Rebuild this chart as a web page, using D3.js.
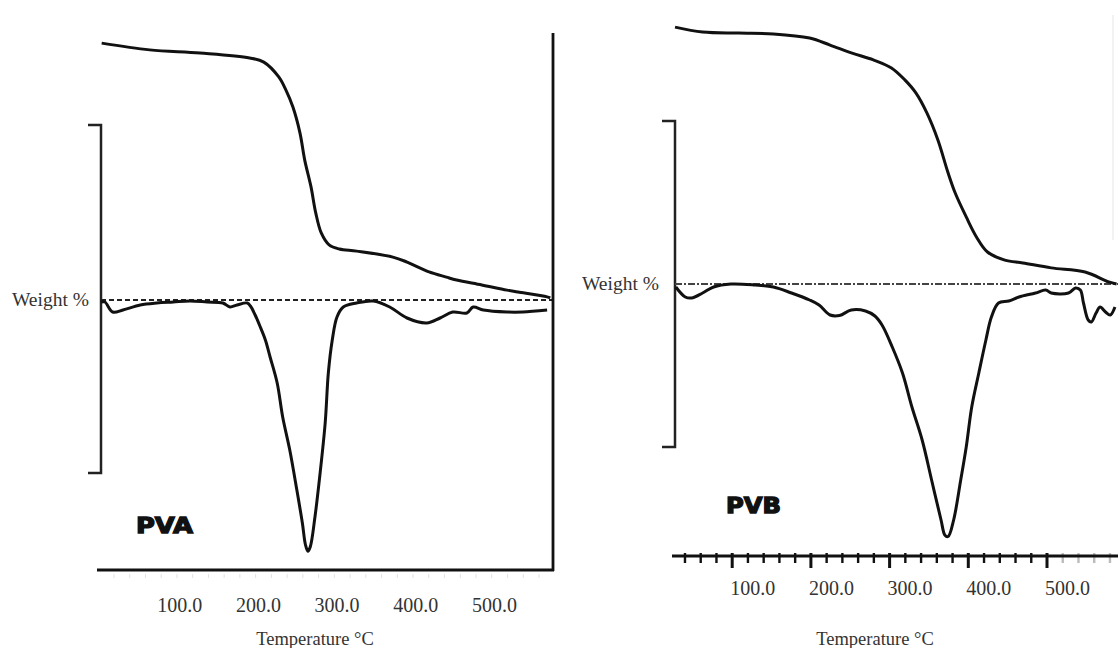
<!DOCTYPE html>
<html>
<head>
<meta charset="utf-8">
<script src="https://cdn.jsdelivr.net/npm/d3@7"></script>
<style>
  body { margin: 0; background: #fff; }
  svg { display: block; }
</style>
</head>
<body>
<div id="chart"></div>
<script>
// values (temperature in degC, weight %, DTG in arbitrary units)
var tickLabels = [100, 200, 300, 400, 500];

var pvaTgTemp   = [25, 86, 150, 213, 231, 250, 259, 268, 277, 283, 291, 297, 304, 314, 327, 349, 395, 413, 441, 463, 476, 508, 540, 554, 591, 595];
var pvaTgWeight = [98.8, 96.2, 95.0, 93.1, 91.5, 85.8, 80.8, 74.2, 64.2, 53.8, 43.5, 33.5, 25.8, 21.2, 19.6, 18.8, 16.5, 14.6, 10.8, 8.8, 7.7, 5.8, 3.8, 3.1, 1.2, 0.8];

var pvaDtgTemp = [24, 29, 39, 52, 74, 95, 116, 137, 159, 179, 188, 197, 210, 214, 220, 226, 233, 239, 248, 255, 264, 273, 280, 284, 287, 290, 296, 302, 309, 313, 318, 324, 332, 349, 370, 391, 413, 438, 455, 471, 489, 497, 510, 540, 560, 591];
var pvaDtgRate = [-0.8, -0.8, -4.8, -4.0, -2.0, -1.2, -0.8, -0.4, -0.8, -1.2, -2.8, -2.0, -1.2, -2.4, -6.0, -10.4, -16, -22.8, -33.2, -46.8, -60, -76, -89.2, -98, -100.5, -98.8, -86.8, -70.8, -49.2, -29.2, -16, -6.8, -2.8, -1.2, -0.4, -2.8, -7.2, -9.2, -7.2, -4.8, -5.2, -2.8, -4.0, -4.8, -4.8, -4.0];

var pvbTgTemp   = [28, 63, 109, 153, 199, 225, 253, 280, 303, 320, 334, 348, 362, 375, 384, 398, 411, 425, 447, 470, 506, 549, 579, 589];
var pvbTgWeight = [98.8, 96.9, 96.5, 96.2, 94.6, 91.9, 88.8, 86.2, 83.1, 78.5, 73.5, 65.8, 55.4, 42.7, 35.0, 25.8, 18.1, 12.3, 9.2, 8.1, 6.2, 4.6, 0.8, 0];

var pvbDtgTemp = [29, 41, 49, 63, 77, 99, 130, 153, 176, 199, 211, 225, 237, 252, 270, 282, 291, 304, 317, 329, 342, 354, 366, 371, 375, 382, 391, 398, 405, 414, 423, 430, 439, 452, 465, 486, 499, 506, 528, 537, 543, 547, 553, 557, 563, 568, 575, 581, 587];
var pvbDtgRate = [-1.2, -5.2, -5.6, -3.6, -1.2, 0, -0.4, -1.2, -3.6, -6.4, -8.4, -12.4, -12.6, -10.4, -10.8, -12.8, -16.4, -25.2, -35.6, -49.2, -62.4, -78.4, -94.4, -100.5, -101, -94.4, -78.4, -65.2, -49.2, -35.6, -22.4, -13.2, -7.6, -6.8, -5.2, -3.6, -2.4, -3.6, -3.6, -1.6, -2.4, -7.6, -14.4, -15.2, -11.6, -9.2, -11.2, -12.4, -9.2];

var panels = [
    { name: "PVA", tgT: pvaTgTemp, tgW: pvaTgWeight, dtgT: pvaDtgTemp, dtgR: pvaDtgRate,
      x0: 82, base: 300, axisY: 570, axisX: [97, 554], bracketX: 101, bracketY: [125, 473],
      frameRight: 553, labelY: 612, labelDx: 19, weightX: 12, titleX: 315, nameX: 136, nameY: 533 },
    { name: "PVB", tgT: pvbTgTemp, tgW: pvbTgWeight, dtgT: pvbDtgTemp, dtgR: pvbDtgRate,
      x0: 653, base: 284, axisY: 556, axisX: [672, 1118], bracketX: 675, bracketY: [121, 447],
      frameRight: null, labelY: 595, labelDx: 21, weightX: 582, titleX: 875, nameX: 726, nameY: 513 }
];

var svg = d3.select("#chart")
            .append("svg")
            .attr("width", 1118)
            .attr("height", 648);

var serif = "'Liberation Serif', 'Times New Roman', serif";

panels.forEach(function(p){

    var g = svg.append("g");

    var x = d3.scaleLinear().domain([0, 600]).range([p.x0, p.x0 + 0.787 * 600]);
    var yTg = d3.scaleLinear().domain([0, 100]).range([p.base, p.base - 260]);
    var yDtg = d3.scaleLinear().domain([-100, 0]).range([p.base + 250, p.base]);

    // bracket on the left
    g.append("path")
        .attr("d", "M" + (p.bracketX - 13) + "," + p.bracketY[0] + "H" + p.bracketX +
                   "V" + p.bracketY[1] + "H" + (p.bracketX - 13))
        .attr("fill", "none")
        .attr("stroke", "#222")
        .attr("stroke-width", 2.5);

    // zero line of the DTG trace
    g.append("line")
        .attr("x1", p.bracketX).attr("x2", p.axisX[1])
        .attr("y1", p.base).attr("y2", p.base)
        .attr("stroke", p.name == "PVA" ? "#222" : "#444")
        .attr("stroke-width", p.name == "PVA" ? 2.2 : 1.8)
        .attr("stroke-dasharray", p.name == "PVA" ? "5,3" : "7,2,2,2");

    if (p.frameRight) {
        g.append("line")
            .attr("x1", p.frameRight).attr("x2", p.frameRight)
            .attr("y1", 33).attr("y2", p.axisY + 1)
            .attr("stroke", "#111")
            .attr("stroke-width", 2.8);
        g.append("line")
            .attr("x1", p.axisX[0]).attr("x2", p.axisX[1])
            .attr("y1", p.axisY).attr("y2", p.axisY)
            .attr("stroke", "#111")
            .attr("stroke-width", 3.2);
        // faint ticks
        var ax = g.append("g")
            .attr("transform", "translate(0," + (p.axisY + 4) + ")")
            .call(d3.axisBottom(x).tickValues(d3.range(40, 600, 20)).tickSize(4).tickFormat(""));
        ax.select(".domain").remove();
        ax.selectAll("line").attr("stroke", "#e2e2e2");
    } else {
        var ax = g.append("g")
            .attr("transform", "translate(0," + p.axisY + ")")
            .call(d3.axisBottom(x).tickValues(d3.range(40, 600, 20)).tickSizeOuter(0).tickFormat(""));
        ax.select(".domain").remove();
        ax.selectAll("line")
            .attr("y1", -3)
            .attr("y2", function(d){ return d % 100 == 0 ? 12 : 7; })
            .attr("stroke", function(d){ return d > 500 ? "#bbb" : "#111"; })
            .attr("stroke-width", function(d){ return d % 100 == 0 ? 3 : 2.4; });
        g.append("line")
            .attr("x1", p.axisX[0]).attr("x2", p.axisX[1])
            .attr("y1", p.axisY).attr("y2", p.axisY)
            .attr("stroke", "#111")
            .attr("stroke-width", 3.2);
        // faint edge on the right
        g.append("line")
            .attr("x1", 1113).attr("x2", 1113)
            .attr("y1", 15).attr("y2", 240)
            .attr("stroke", "#eee")
            .attr("stroke-width", 1.5);
    }

    // tick labels
    g.selectAll(".tlabel")
        .data(tickLabels)
        .enter()
        .append("text")
        .attr("class", "tlabel")
        .attr("x", function(d){ return x(d) + p.labelDx; })
        .attr("y", p.labelY)
        .attr("text-anchor", "middle")
        .style("font-family", serif)
        .style("font-size", 20)
        .style("fill", "#333")
        .text(function(d){ return d3.format(".1f")(d); });

    g.append("text")
        .attr("x", p.titleX)
        .attr("y", 645)
        .attr("text-anchor", "middle")
        .style("font-family", serif)
        .style("font-size", 18.5)
        .style("fill", "#333")
        .text("Temperature °C");

    g.append("text")
        .attr("x", p.weightX)
        .attr("y", p.base + 6)
        .attr("textLength", 77)
        .attr("lengthAdjust", "spacingAndGlyphs")
        .style("font-family", serif)
        .style("font-size", 19)
        .style("fill", "#333")
        .text("Weight %");

    g.append("text")
        .attr("x", p.nameX)
        .attr("y", p.nameY)
        .attr("textLength", p.name == "PVA" ? 57 : 55)
        .attr("lengthAdjust", "spacingAndGlyphs")
        .style("font-family", "'DejaVu Sans', Arial, sans-serif")
        .style("font-weight", "bold")
        .style("font-size", 21)
        .style("fill", "#111")
        .style("stroke", "#111")
        .style("stroke-width", 1.3)
        .text(p.name);

    // TG curve
    var tg = p.tgT.map(function(t, i){ return [t, p.tgW[i]]; });
    g.append("path")
        .datum(tg)
        .attr("fill", "none")
        .attr("stroke", "#111")
        .attr("stroke-width", 3)
        .attr("stroke-linejoin", "round")
        .attr("d", d3.line()
            .x(function(d){ return x(d[0]); })
            .y(function(d){ return yTg(d[1]); })
            .curve(d3.curveCatmullRom.alpha(0.5)));

    // DTG curve
    var dtg = p.dtgT.map(function(t, i){ return [t, p.dtgR[i]]; });
    g.append("path")
        .datum(dtg)
        .attr("fill", "none")
        .attr("stroke", "#111")
        .attr("stroke-width", 3)
        .attr("stroke-linejoin", "round")
        .attr("d", d3.line()
            .x(function(d){ return x(d[0]); })
            .y(function(d){ return yDtg(d[1]); })
            .curve(d3.curveCatmullRom.alpha(0.5)));
});
</script>
</body>
</html>
